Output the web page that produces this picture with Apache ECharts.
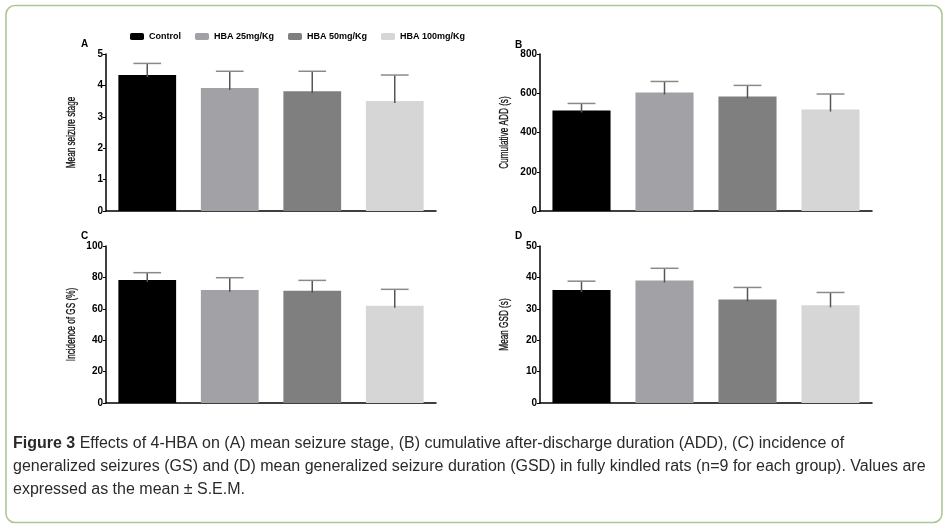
<!DOCTYPE html>
<html>
<head>
<meta charset="utf-8">
<script src="https://cdn.jsdelivr.net/npm/echarts@6/dist/echarts.min.js"></script>
<style>
html,body{margin:0;padding:0;background:#fff;}
#chart{width:946px;height:528px;}
</style>
</head>
<body>
<div id="chart"></div>
<script>
// ---- data ----
const categories = ['Control', 'HBA 25mg/Kg', 'HBA 50mg/Kg', 'HBA 100mg/Kg'];
const stageMean = [4.33, 3.92, 3.81, 3.50];
const stageSem  = [0.37, 0.53, 0.64, 0.83];
const addMean   = [512, 604, 584, 517];
const addSem    = [36, 56, 56, 79];
const gsMean    = [78.3, 71.9, 71.5, 61.9];
const gsSem     = [4.7, 7.9, 6.6, 10.5];
const gsdMean   = [36.0, 39.0, 33.0, 31.1];
const gsdSem    = [2.8, 3.9, 3.8, 4.1];
const panelLetters = ['A', 'B', 'C', 'D'];
const yTitles = ['Mean seizure stage', 'Cumulative ADD (s)', 'Incidence of GS (%)', 'Mean GSD (s)'];
const yMax = [5, 800, 100, 50];
const yStep = [1, 200, 20, 10];

const colors = ['#000000', '#a2a1a6', '#7f7f7f', '#d6d6d6'];
const panels = [
  {mean: stageMean, sem: stageSem},
  {mean: addMean, sem: addSem},
  {mean: gsMean, sem: gsSem},
  {mean: gsdMean, sem: gsdSem}
];
const grids = [
  {left: 106, top: 54, width: 330, height: 157},
  {left: 540, top: 54, width: 332, height: 157},
  {left: 106, top: 246, width: 330, height: 157},
  {left: 540, top: 246, width: 332, height: 157}
];
const titleX = [71, 504, 71, 504];
const letterPos = [[81, 39], [515, 40], [81, 231], [515, 231]];

const chart = echarts.init(document.getElementById('chart'));
const xAxes = [], yAxes = [], series = [];
panels.forEach((p, k) => {
  xAxes.push({
    type: 'category', gridIndex: k, data: categories,
    axisLabel: {show: false}, axisTick: {show: false},
    axisLine: {lineStyle: {color: '#000', width: 1.5}}
  });
  yAxes.push({
    type: 'value', gridIndex: k, min: 0, max: yMax[k], interval: yStep[k],
    splitLine: {show: false},
    axisLine: {show: true, lineStyle: {color: '#000', width: 1.5}},
    axisTick: {show: true, length: 3, lineStyle: {color: '#000', width: 1}},
    axisLabel: {color: '#000', fontFamily: 'Liberation Sans', fontWeight: 'bold', fontSize: 10, margin: 3}
  });
  categories.forEach((c, i) => {
    series.push({
      type: 'bar', name: c, xAxisIndex: k, yAxisIndex: k,
      barWidth: '70%', barGap: '-100%',
      itemStyle: {color: colors[i]},
      data: p.mean.map((v, j) => j === i ? v : '-'),
      silent: true
    });
  });
  series.push({
    type: 'custom', xAxisIndex: k, yAxisIndex: k, z: 5,
    data: p.mean.map((m, i) => [i, m, m + p.sem[i]]),
    encode: {x: 0, y: [1, 2]},
    renderItem: function (params, api) {
      const base = api.coord([api.value(0), api.value(1)]);
      const top = api.coord([api.value(0), api.value(2)]);
      const bw = api.size([1, 0])[0] * 0.7;
      const half = bw * 0.24;
      return {
        type: 'group',
        children: [
          {type: 'line', shape: {x1: base[0], y1: base[1] + 2, x2: top[0], y2: top[1]},
           style: {stroke: '#555', lineWidth: 1.5}},
          {type: 'line', shape: {x1: top[0] - half, y1: top[1], x2: top[0] + half, y2: top[1]},
           style: {stroke: '#8a8a8a', lineWidth: 1.5}}
        ]
      };
    }
  });
});

const graphics = [
  {type: 'rect', shape: {x: 6, y: 5.5, width: 936, height: 517, r: 9},
   style: {fill: 'none', stroke: '#a9c894', lineWidth: 1.6}, silent: true}
];
panelLetters.forEach((l, k) => {
  graphics.push({type: 'text', x: letterPos[k][0], y: letterPos[k][1],
    style: {text: l, fill: '#000', font: 'bold 10px Liberation Sans'}});
});
yTitles.forEach((t, k) => {
  const g = grids[k];
  graphics.push({type: 'text', x: titleX[k], y: g.top + g.height / 2,
    rotation: Math.PI / 2, scaleX: 0.63, scaleY: 1,
    style: {text: t, fill: '#111', font: '13px Liberation Sans', align: 'center', verticalAlign: 'middle',
            stroke: '#111', lineWidth: 0.3}});
});
const captionLines = [
  [{t: 'Figure 3', b: true}, {t: ' Effects of 4-HBA on (A) mean seizure stage, (B) cumulative after-discharge duration (ADD), (C) incidence of', b: false}],
  [{t: 'generalized seizures (GS) and (D) mean generalized seizure duration (GSD) in fully kindled rats (n=9 for each group). Values are', b: false}],
  [{t: 'expressed as the mean \u00b1 S.E.M.', b: false}]
];
const lineY = [436, 459, 482];
captionLines.forEach((parts, li) => {
  const rich = {n: {fontFamily: 'Liberation Sans', fontSize: 16, color: '#2a2a2a'},
                b: {fontFamily: 'Liberation Sans', fontSize: 16, fontWeight: 'bold', color: '#2a2a2a'}};
  const txt = parts.map(p => '{' + (p.b ? 'b' : 'n') + '|' + p.t + '}').join('');
  graphics.push({type: 'text', x: 13, y: lineY[li],
    style: {text: txt, rich: rich, fill: '#2a2a2a', fontFamily: 'Liberation Sans', fontSize: 16}});
});

chart.setOption({
  animation: false,
  backgroundColor: '#fff',
  legend: {
    data: categories, left: 125, top: 27, itemWidth: 14, itemHeight: 7, itemGap: 14,
    icon: 'roundRect', selectedMode: false,
    textStyle: {color: '#000', fontFamily: 'Liberation Sans', fontWeight: 'bold', fontSize: 9}
  },
  grid: grids,
  xAxis: xAxes,
  yAxis: yAxes,
  series: series,
  graphic: graphics
});
</script>
</body>
</html>
